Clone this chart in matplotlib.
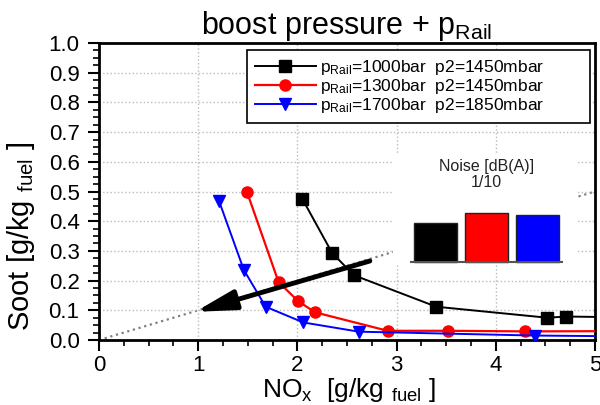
import matplotlib.pyplot as plt
from matplotlib.ticker import MultipleLocator

plt.rcParams['font.family'] = ['Liberation Sans', 'DejaVu Sans']
plt.rcParams['mathtext.fontset'] = 'custom'
plt.rcParams['mathtext.rm'] = 'Liberation Sans'
plt.rcParams['mathtext.it'] = 'Liberation Sans'
plt.rcParams['mathtext.default'] = 'regular'

# NOx / soot points (last point lies past x=5, clipped)
nox_1000 = [2.05, 2.35, 2.57, 3.40, 4.52, 4.71, 5.40]
soot_1000 = [0.475, 0.293, 0.218, 0.112, 0.075, 0.079, 0.076]
nox_1300 = [1.49, 1.81, 2.01, 2.18, 2.91, 3.52, 4.29, 5.40]
soot_1300 = [0.500, 0.195, 0.130, 0.093, 0.031, 0.031, 0.029, 0.030]
nox_1700 = [1.21, 1.46, 1.68, 2.06, 2.62, 4.39, 5.40]
soot_1700 = [0.468, 0.236, 0.112, 0.059, 0.028, 0.015, 0.012]

labels = ['p$_{Rail}$=1000bar  p2=1450mbar',
          'p$_{Rail}$=1300bar  p2=1450mbar',
          'p$_{Rail}$=1700bar  p2=1850mbar']
colors = ['black', 'red', 'blue']

# noise bars (scaled 1/10)
noise = [3.9, 4.9, 4.65]

# reference line soot = 0.1 * NOx
ref_x = [0, 5]
ref_y = [0, 0.5]

fig = plt.figure(figsize=(6, 4.05), dpi=100)
ax = fig.add_axes([0.165, 0.1605, 0.8267, 0.7333])

ax.plot(ref_x, ref_y, color='gray', linestyle=':', linewidth=1.6, zorder=1)
ax.plot(nox_1000, soot_1000, color=colors[0], marker='s', markersize=8, linewidth=1.4, label=labels[0], zorder=3)
ax.plot(nox_1300, soot_1300, color=colors[1], marker='o', markersize=8, linewidth=1.6, label=labels[1], zorder=3)
ax.plot(nox_1700, soot_1700, color=colors[2], marker='v', markersize=8, linewidth=1.4, label=labels[2], zorder=3)

# trend arrow
ax.annotate('', xy=(0.97, 0.095), xytext=(2.73, 0.266),
            arrowprops=dict(arrowstyle='-|>,head_length=1.2,head_width=0.3',
                            color='black', lw=3.5, mutation_scale=20, shrinkA=0, shrinkB=0),
            zorder=4)

ax.set_xlim(0, 5)
ax.set_ylim(0, 1.0)
ax.xaxis.set_major_locator(MultipleLocator(1))
ax.xaxis.set_minor_locator(MultipleLocator(0.25))
ax.yaxis.set_major_locator(MultipleLocator(0.1))
ax.yaxis.set_minor_locator(MultipleLocator(0.025))
ax.yaxis.set_major_formatter('{x:.1f}')
ax.tick_params(which='major', direction='out', length=8, width=1.5, labelsize=16, pad=6)
ax.tick_params(axis='x', which='major', pad=3)
ax.tick_params(which='minor', direction='out', length=4, width=1.2)
ax.grid(True, which='major', color='#bbbbbb', linestyle=':', linewidth=1)
for s in ax.spines.values():
    s.set_linewidth(2)

ax.set_title('boost pressure + p$_{Rail}$', fontsize=22, pad=6)
ax.set_xlabel('NO$_x$  [g/kg ${}_{fuel}$ ]', fontsize=19)
ax.xaxis.label.set_va('bottom')
ax.xaxis.set_label_coords(0.505, -0.2155)
ax.set_ylabel('Soot [g/kg ${}_{fuel}$ ]', fontsize=21)
ax.yaxis.set_label_coords(-0.125, 0.35)

leg = ax.legend(loc='upper left', bbox_to_anchor=(0.2984, 0, 0.6915, 0.976), mode='expand',
                fontsize=12.5, handlelength=3.5, handletextpad=0.28, labelspacing=0,
                borderpad=0.45, borderaxespad=0, fancybox=False, framealpha=1,
                edgecolor='black')
leg.get_frame().set_linewidth(1.2)

# noise inset
ins = fig.add_axes([0.655, 0.3457, 0.308, 0.2716])
ins.bar(range(3), noise, width=0.84, color=colors, edgecolor='#222222', linewidth=1)
ins.hlines(0, -0.5, 2.5, color='#555555', linewidth=1.5)
ins.set_xlim(-0.83, 2.78)
ins.set_ylim(-0.33, 10.67)
ins.text(1.0, 9.5, 'Noise [dB(A)]', ha='center', va='center', fontsize=11.5, color='#222222')
ins.text(1.0, 7.9, '1/10', ha='center', va='center', fontsize=11.5, color='#222222')
ins.set_xticks([])
ins.set_yticks([])
for s in ins.spines.values():
    s.set_visible(False)

plt.savefig('out.png')
